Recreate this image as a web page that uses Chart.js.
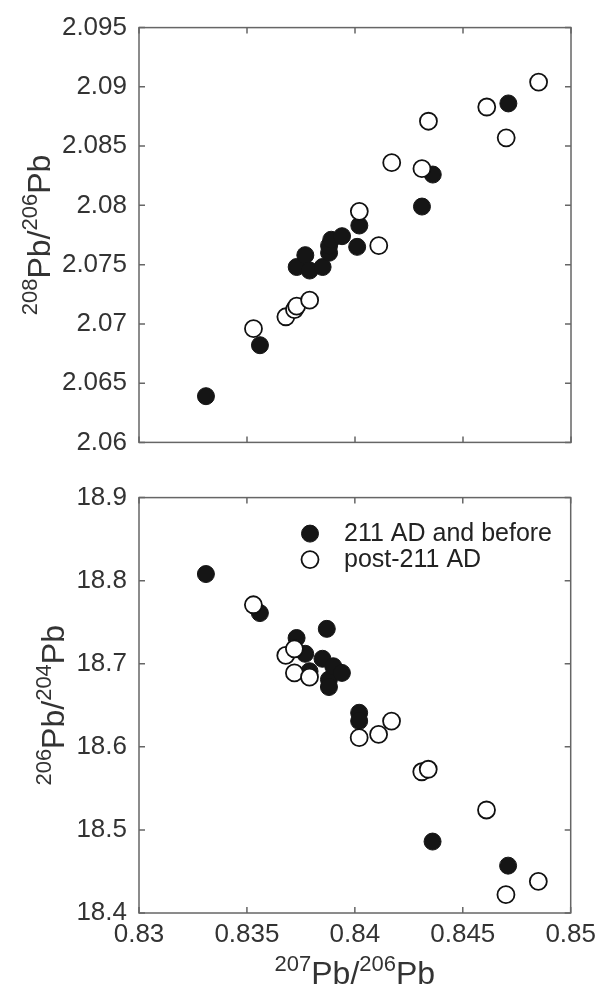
<!DOCTYPE html>
<html>
<head>
<meta charset="utf-8">
<script src="https://cdn.jsdelivr.net/npm/chart.js@4.4.1/dist/chart.umd.min.js"></script>
<style>
  body { margin: 0; background: #fff; }
  #topBox { position: absolute; left: 0; top: 0; }
  #botBox { position: absolute; left: 0; top: 470px; }
</style>
</head>
<body>
<div id="topBox"><canvas id="topChart" width="602" height="470"></canvas></div>
<div id="botBox"><canvas id="botChart" width="602" height="520"></canvas></div>
<script>
// tick values
let xTicks = [0.83, 0.835, 0.84, 0.845, 0.85];
let topYTicks = [2.06, 2.065, 2.07, 2.075, 2.08, 2.085, 2.09, 2.095];
let botYTicks = [18.4, 18.5, 18.6, 18.7, 18.8, 18.9];

// legend labels
let seriesNames = ["211 AD and before", "post-211 AD"];

// top panel: 208Pb/206Pb vs 207Pb/206Pb
let topFilledX = [0.8331, 0.8356, 0.8373, 0.8377, 0.8379, 0.8385, 0.8388, 0.8388, 0.8389, 0.8394, 0.8402, 0.8401, 0.8431, 0.8436, 0.8471];
let topFilledY = [2.0639, 2.0682, 2.0748, 2.0758, 2.0745, 2.0748, 2.0760, 2.0766, 2.0771, 2.0774, 2.0783, 2.0765, 2.0799, 2.0826, 2.0886];
let topOpenX = [0.8353, 0.8368, 0.8372, 0.8373, 0.8379, 0.8402, 0.8411, 0.8417, 0.8431, 0.8434, 0.8461, 0.8470, 0.8485];
let topOpenY = [2.0696, 2.0706, 2.0712, 2.0715, 2.0720, 2.0795, 2.0766, 2.0836, 2.0831, 2.0871, 2.0883, 2.0857, 2.0904];

// bottom panel: 206Pb/204Pb vs 207Pb/206Pb
let botFilledX = [0.8331, 0.8356, 0.8373, 0.8377, 0.8379, 0.8385, 0.8387, 0.8388, 0.8388, 0.8390, 0.8394, 0.8402, 0.8402, 0.8436, 0.8471];
let botFilledY = [18.808, 18.761, 18.731, 18.712, 18.691, 18.706, 18.742, 18.681, 18.672, 18.697, 18.689, 18.641, 18.631, 18.486, 18.457];
let botOpenX = [0.8353, 0.8368, 0.8372, 0.8372, 0.8379, 0.8402, 0.8411, 0.8417, 0.8431, 0.8434, 0.8461, 0.8470, 0.8485];
let botOpenY = [18.771, 18.710, 18.718, 18.689, 18.684, 18.611, 18.615, 18.631, 18.570, 18.573, 18.524, 18.422, 18.438];

let fontFamily = "'Liberation Sans', Arial, Helvetica, sans-serif";
let textColor = "#333";
let frameColor = "#666";

function toPoints(xs, ys) {
  return xs.map(function(x, i) { return { x: x, y: ys[i] }; });
}

function formatTick(v) {
  return String(parseFloat(Number(v).toFixed(4)));
}

//draws the text pieces, superscripts raised and smaller, centred on (0,0)
function drawParts(ctx, parts) {
  let total = 0;
  parts.forEach(function(p) {
    ctx.font = (p.sup ? 22 : 32) + "px " + fontFamily;
    p.w = ctx.measureText(p.t).width;
    total += p.w;
  });
  let x = -total / 2;
  ctx.textBaseline = "alphabetic";
  ctx.textAlign = "left";
  parts.forEach(function(p) {
    ctx.font = (p.sup ? 22 : 32) + "px " + fontFamily;
    ctx.fillText(p.t, x, p.sup ? -13 : 0);
    x += p.w;
  });
}

//frame, inward ticks, axis titles and legend
let decorPlugin = {
  id: "decor",
  afterDraw: function(chart, args, opts) {
    let ctx = chart.ctx;
    let a = chart.chartArea;
    let xs = chart.scales.x;
    let ys = chart.scales.y;
    ctx.save();
    ctx.strokeStyle = frameColor;
    ctx.lineWidth = 1.5;
    ctx.strokeRect(a.left, a.top, a.right - a.left, a.bottom - a.top);
    ctx.beginPath();
    xs.ticks.forEach(function(t) {
      let px = xs.getPixelForValue(t.value);
      ctx.moveTo(px, a.bottom); ctx.lineTo(px, a.bottom - 6);
      ctx.moveTo(px, a.top); ctx.lineTo(px, a.top + 6);
    });
    ys.ticks.forEach(function(t) {
      let py = ys.getPixelForValue(t.value);
      ctx.moveTo(a.left, py); ctx.lineTo(a.left + 6, py);
      ctx.moveTo(a.right, py); ctx.lineTo(a.right - 6, py);
    });
    ctx.stroke();

    ctx.fillStyle = textColor;
    //y title, rotated
    ctx.save();
    ctx.translate(opts.yBase, (a.top + a.bottom) / 2);
    ctx.rotate(-Math.PI / 2);
    drawParts(ctx, opts.yTitle);
    ctx.restore();
    //x title
    if (opts.xTitle) {
      ctx.save();
      ctx.translate((a.left + a.right) / 2, opts.xBase);
      drawParts(ctx, opts.xTitle);
      ctx.restore();
    }
    //legend
    if (opts.legend) {
      let sets = [chart.data.datasets[1], chart.data.datasets[0]];
      sets.forEach(function(ds, i) {
        let ly = a.top + 36 + i * 26;
        ctx.beginPath();
        ctx.arc(a.left + 171, ly, ds.pointRadius, 0, Math.PI * 2);
        ctx.fillStyle = ds.backgroundColor;
        ctx.fill();
        ctx.lineWidth = ds.borderWidth;
        ctx.strokeStyle = ds.borderColor;
        ctx.stroke();
        ctx.fillStyle = "#222";
        ctx.font = "25px " + fontFamily;
        ctx.textAlign = "left";
        ctx.textBaseline = "middle";
        ctx.fillText(ds.label, a.left + 205, ly + 1);
      });
    }
    ctx.restore();
  }
};

function makeChart(id, cfg) {
  let tickFont = { family: fontFamily, size: 26 };
  return new Chart(document.getElementById(id).getContext("2d"), {
    type: "scatter",
    data: {
      datasets: [
        {
          label: seriesNames[1],
          data: toPoints(cfg.openX, cfg.openY),
          backgroundColor: "#fff",
          borderColor: "#111",
          borderWidth: 1.8,
          pointRadius: 8.5
        },
        {
          label: seriesNames[0],
          data: toPoints(cfg.filledX, cfg.filledY),
          backgroundColor: "#151515",
          borderColor: "#151515",
          borderWidth: 1,
          pointRadius: 8.5
        }
      ]
    },
    options: {
      responsive: false,
      animation: false,
      layout: { padding: { top: cfg.padTop, right: 31, left: 0, bottom: 0 } },
      plugins: {
        legend: { display: false },
        tooltip: { enabled: false },
        decor: cfg.decor
      },
      scales: {
        x: {
          type: "linear",
          min: 0.83,
          max: 0.85,
          afterBuildTicks: function(s) { s.ticks = xTicks.map(function(v) { return { value: v }; }); },
          afterFit: function(s) { s.height = cfg.xHeight; },
          grid: { display: false, drawTicks: false },
          border: { display: false },
          ticks: { display: cfg.showX, font: tickFont, color: textColor, padding: 6, maxRotation: 0, callback: formatTick }
        },
        y: {
          type: "linear",
          min: cfg.yMin,
          max: cfg.yMax,
          afterBuildTicks: function(s) { s.ticks = cfg.yTicks.map(function(v) { return { value: v }; }); },
          afterFit: function(s) { s.width = 139; },
          grid: { display: false, drawTicks: false },
          border: { display: false },
          ticks: { font: tickFont, color: textColor, padding: 12, callback: formatTick }
        }
      }
    },
    plugins: [decorPlugin]
  });
}

makeChart("topChart", {
  filledX: topFilledX, filledY: topFilledY, openX: topOpenX, openY: topOpenY,
  yMin: 2.06, yMax: 2.095, yTicks: topYTicks,
  padTop: 20, xHeight: 18, showX: false,
  decor: {
    yBase: 50,
    yTitle: [{ t: "208", sup: true }, { t: "Pb/" }, { t: "206", sup: true }, { t: "Pb" }]
  }
});

makeChart("botChart", {
  filledX: botFilledX, filledY: botFilledY, openX: botOpenX, openY: botOpenY,
  yMin: 18.4, yMax: 18.9, yTicks: botYTicks,
  padTop: 11, xHeight: 77, showX: true,
  decor: {
    yBase: 64,
    yTitle: [{ t: "206", sup: true }, { t: "Pb/" }, { t: "204", sup: true }, { t: "Pb" }],
    xBase: 514,
    xTitle: [{ t: "207", sup: true }, { t: "Pb/" }, { t: "206", sup: true }, { t: "Pb" }],
    legend: true
  }
});
</script>
</body>
</html>
